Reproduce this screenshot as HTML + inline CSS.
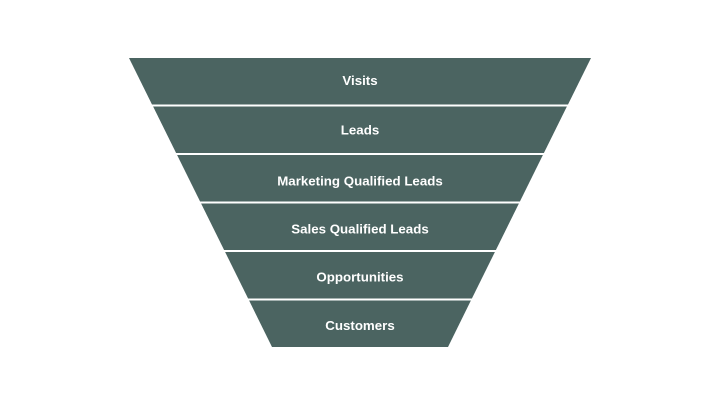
<!DOCTYPE html>
<html>
<head>
<meta charset="utf-8">
<style>
  html,body{margin:0;padding:0;background:#fff;}
  body{width:720px;height:405px;overflow:hidden;}
  svg{display:block;}
  text{font-family:"Liberation Sans",Arial,sans-serif;font-weight:bold;font-size:13.3px;fill:#fff;text-anchor:middle;}
</style>
</head>
<body>
<svg width="720" height="405" viewBox="0 0 720 405" xmlns="http://www.w3.org/2000/svg">
  <rect width="720" height="405" fill="#ffffff"/>
  <g fill="#4b6461">
    <polygon points="129,58 591,58 568,104.5 152,104.5"/>
    <polygon points="153.1,106.5 566.9,106.5 543.9,153 176.1,153"/>
    <polygon points="177.1,155 542.9,155 519.9,201.5 200.1,201.5"/>
    <polygon points="201.1,203.5 518.9,203.5 495.9,250 224.1,250"/>
    <polygon points="225.1,252 494.9,252 471.9,298.5 248.1,298.5"/>
    <polygon points="249.1,300.5 470.9,300.5 448,347 272,347"/>
  </g>
  <text x="360" y="85">Visits</text>
  <text x="360" y="134.5">Leads</text>
  <text x="360" y="185.5">Marketing Qualified Leads</text>
  <text x="360" y="233.5">Sales Qualified Leads</text>
  <text x="360" y="281.5">Opportunities</text>
  <text x="360" y="330">Customers</text>
</svg>
</body>
</html>
